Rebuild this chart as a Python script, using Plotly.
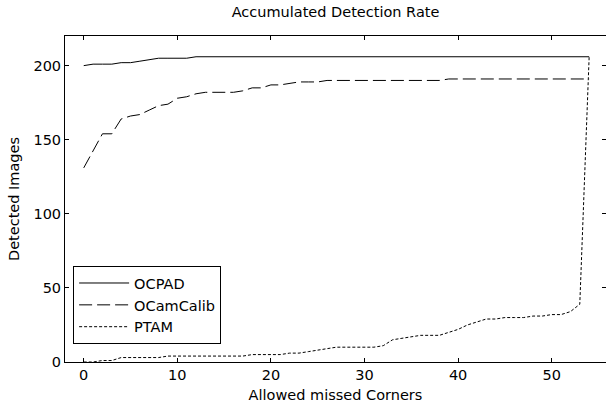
import plotly.graph_objects as go

allowed_missed = [0, 1, 2, 3, 4, 5, 6, 7, 8, 9, 10, 11, 12, 13, 14, 15, 16, 17, 18, 19,
                  20, 21, 22, 23, 24, 25, 26, 27, 28, 29, 30, 31, 32, 33, 34, 35, 36, 37, 38, 39,
                  40, 41, 42, 43, 44, 45, 46, 47, 48, 49, 50, 51, 52, 53, 54]

ocpad = [200, 201, 201, 201, 202, 202, 203, 204, 205, 205, 205, 205,
         206, 206, 206, 206, 206, 206, 206, 206, 206, 206, 206, 206, 206, 206, 206, 206,
         206, 206, 206, 206, 206, 206, 206, 206, 206, 206, 206, 206, 206, 206, 206, 206,
         206, 206, 206, 206, 206, 206, 206, 206, 206, 206, 206]

ocamcalib = [131, 143, 154, 154, 164, 166, 167, 170, 173, 174, 178, 179, 181, 182, 182,
             182, 182, 183, 185, 185, 187, 187, 188, 189, 189, 189,
             190, 190, 190, 190, 190, 190, 190, 190, 190, 190, 190, 190, 190,
             191, 191, 191, 191, 191, 191, 191, 191, 191, 191, 191, 191, 191, 191, 191, 191]

ptam = [0, 0, 1, 1, 3, 3, 3, 3, 3, 4, 4, 4, 4, 4, 4, 4, 4, 4, 5, 5,
        5, 5, 6, 6, 7, 8, 9, 10, 10, 10, 10, 10, 11, 15, 16, 17, 18, 18, 18, 20,
        22, 25, 27, 29, 29, 30, 30, 30, 31, 31, 32, 32, 34, 39, 206]

x_ticks = [0, 10, 20, 30, 40, 50]
y_ticks = [0, 50, 100, 150, 200]

FONT = "DejaVu Sans"
FS = 14.5

fig = go.Figure()
fig.add_trace(go.Scatter(x=allowed_missed, y=ocpad, mode="lines", name="OCPAD",
                         line=dict(color="black", width=1)))
fig.add_trace(go.Scatter(x=allowed_missed, y=ocamcalib, mode="lines", name="OCamCalib",
                         line=dict(color="black", width=1, dash="13px,5px")))
fig.add_trace(go.Scatter(x=allowed_missed, y=ptam, mode="lines", name="PTAM",
                         line=dict(color="black", width=1, dash="3px,2px")))

fig.update_layout(
    width=606, height=404, autosize=False,
    margin=dict(l=65, r=0, t=36, b=42),
    paper_bgcolor="white", plot_bgcolor="white",
    font=dict(family=FONT, size=FS, color="black"),
    title=dict(text="Accumulated Detection Rate", x=(65 + 606) / 2 / 606, xanchor="center",
               y=1 - 12 / 404, yanchor="middle", yref="container",
               font=dict(family=FONT, size=FS, color="black")),
    showlegend=True,
    legend=dict(x=0.015, y=0.055, xanchor="left", yanchor="bottom",
                bgcolor="white", bordercolor="black", borderwidth=1,
                font=dict(family=FONT, size=FS, color="black"),
                itemwidth=50, tracegroupgap=0),
)

fig.update_xaxes(range=[-2, 55.8], tickvals=x_ticks, ticks="inside", ticklen=4,
                 tickcolor="black", showline=True, linecolor="black", linewidth=1,
                 mirror="ticks", showgrid=False, zeroline=False,
                 title=dict(text="Allowed missed Corners", standoff=7,
                            font=dict(family=FONT, size=FS, color="black")),
                 tickfont=dict(family=FONT, size=FS))
fig.update_yaxes(range=[0, 220], tickvals=y_ticks, ticks="inside", ticklen=4,
                 tickcolor="black", showline=True, linecolor="black", linewidth=1,
                 mirror="ticks", showgrid=False, zeroline=False,
                 title=dict(text="Detected Images", standoff=10,
                            font=dict(family=FONT, size=FS, color="black")),
                 tickfont=dict(family=FONT, size=FS))

fig.write_html("out.html")
